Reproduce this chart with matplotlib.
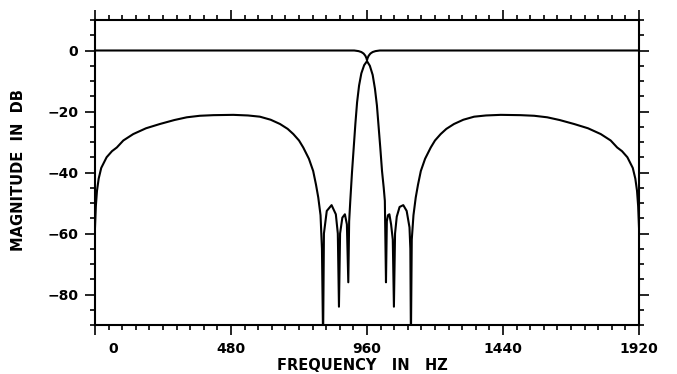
import matplotlib
matplotlib.use("Agg")
import matplotlib.pyplot as plt
from matplotlib.ticker import MultipleLocator
from matplotlib.transforms import ScaledTranslation

# complementary (notch) response
notch_freq = [0, 915, 930, 940, 948, 954, 958, 960, 962, 966, 972, 980, 990, 1005, 1920]
notch_db = [0, 0, -0.2, -0.5, -1.0, -1.7, -2.5, -3.2, -2.5, -1.7, -1.0, -0.5, -0.2, 0, 0]

# bandpass response (nulls drawn below the axis floor)
band_freq = [
    0, 3, 7, 13, 22, 41, 60, 77, 100, 135, 180, 229, 280, 324, 370, 418,
    488, 540, 582, 620, 653, 680, 700, 720, 735, 755, 770, 780, 788, 796,
    801, 805, 808, 818, 835, 850, 857, 861, 865, 873, 882, 889, 894, 897,
    901, 907, 913, 919, 925, 932, 940, 950, 960, 970, 980, 988, 995, 1001,
    1007, 1013, 1019, 1023, 1027, 1030, 1034, 1039, 1045, 1051, 1055, 1059,
    1065, 1075, 1088, 1100, 1110, 1113, 1115, 1118, 1124, 1132, 1140, 1150,
    1165, 1185, 1200, 1220, 1240, 1267, 1300, 1338, 1380, 1432, 1502, 1550,
    1596, 1640, 1691, 1740, 1785, 1820, 1843, 1860, 1879, 1898, 1907, 1913,
    1917, 1920,
]
band_db = [
    -58, -51, -46, -42, -38.5, -35, -33, -31.8, -29.5, -27.4, -25.5, -24.1,
    -22.8, -21.9, -21.4, -21.2, -21.1, -21.3, -21.7, -22.7, -24.1, -25.7,
    -27.4, -29.5, -31.8, -35.5, -39.5, -44, -48.2, -54, -65, -95, -60,
    -52.6, -50.7, -53.7, -60, -84, -60, -54.8, -53.7, -57, -76, -56,
    -49.3, -40, -32, -24, -17, -11.5, -7.5, -4.8, -3.5, -5, -8, -12.5, -18,
    -25, -32, -39.5, -45, -49.3, -76, -56, -54, -53.7, -57, -62, -84, -60,
    -54.5, -51.3, -50.7, -52.6, -58, -65, -95, -62, -54, -48.2, -44, -39.5,
    -35.5, -31.8, -29.5, -27.4, -25.7, -24.1, -22.7, -21.7, -21.3, -21.1,
    -21.2, -21.4, -21.9, -22.8, -24.1, -25.5, -27.4, -29.5, -31.8, -33,
    -35, -38.5, -42, -46, -51, -58,
]

x_ticks = [0, 480, 960, 1440, 1920]
y_ticks = [-80, -60, -40, -20, 0]

plt.rcParams["font.family"] = "DejaVu Sans"
plt.rcParams["font.weight"] = "bold"

fig = plt.figure(figsize=(6.77, 3.74), dpi=100)
ax = fig.add_axes([95 / 677, 49 / 374, 544 / 677, 305 / 374])

ax.plot(notch_freq, notch_db, color="black", linewidth=1.5)
ax.plot(band_freq, band_db, color="black", linewidth=1.5)

ax.set_xlim(0, 1920)
ax.set_ylim(-90, 10)

ax.xaxis.set_major_locator(MultipleLocator(480))
ax.xaxis.set_minor_locator(MultipleLocator(48))
ax.yaxis.set_major_locator(MultipleLocator(20))
ax.yaxis.set_minor_locator(MultipleLocator(5))
ax.set_xticks(x_ticks)
ax.set_yticks(y_ticks)
ax.set_xticklabels([str(v) for v in x_ticks])
ax.set_yticklabels([str(v).replace("-", "\u2212") for v in y_ticks])

ax.tick_params(which="both", direction="out", top=True, right=True,
               width=1.2, labelsize=10, color="black")
ax.tick_params(which="major", length=7, pad=5)
ax.tick_params(which="minor", length=3.5)

for sp in ax.spines.values():
    sp.set_linewidth(1.5)

# the "0" frequency label sits a little right of its tick in the original
zero_label = ax.get_xticklabels()[0]
zero_label.set_transform(zero_label.get_transform()
                         + ScaledTranslation(0.18, 0, fig.dpi_scale_trans))

ax.set_xlabel("FREQUENCY   IN   HZ", fontsize=10.5, fontweight="bold", va="center")
ax.xaxis.set_label_coords(0.491, -0.134)
ax.set_ylabel("MAGNITUDE  IN  DB", fontsize=10.5, fontweight="bold", va="center")
ax.yaxis.set_label_coords(-0.1415, 0.508)

fig.savefig("out.png", dpi=100)
